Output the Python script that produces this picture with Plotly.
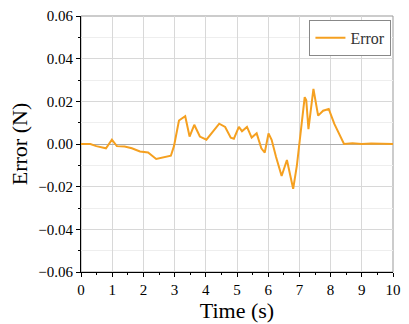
import plotly.graph_objects as go

time_s = [0.0, 0.3, 0.49, 0.8, 0.99, 1.15, 1.4, 1.63, 1.89, 2.15, 2.41, 2.67, 2.88, 2.98,
          3.14, 3.34, 3.48, 3.63, 3.81, 4.02, 4.23, 4.43, 4.62, 4.80, 4.90, 5.06, 5.16,
          5.32, 5.47, 5.63, 5.78, 5.89, 6.01, 6.11, 6.25, 6.43, 6.60, 6.80, 6.92, 7.03,
          7.17, 7.22, 7.29, 7.45, 7.60, 7.76, 7.94, 8.12, 8.43, 8.7, 9.0, 9.3, 9.6, 10.0]
error_n = [0.0, 0.0, -0.001, -0.002, 0.002, -0.001, -0.0012, -0.002, -0.0035, -0.004,
           -0.007, -0.006, -0.0055, -0.001, 0.011, 0.013, 0.0035, 0.009, 0.0035, 0.002,
           0.006, 0.0095, 0.008, 0.003, 0.0025, 0.008, 0.006, 0.008, 0.003, 0.005,
           -0.002, -0.004, 0.005, 0.002, -0.006, -0.015, -0.0075, -0.021, -0.010, 0.005,
           0.022, 0.0205, 0.007, 0.0258, 0.0133, 0.0156, 0.0164, 0.0094, 0.0, 0.0003,
           0.0, 0.0002, 0.0, 0.0]

x_ticks = list(range(0, 11))
y_ticks = [-0.06, -0.04, -0.02, 0.0, 0.02, 0.04, 0.06]

font = "Liberation Serif"

fig = go.Figure()
fig.add_trace(go.Scatter(x=time_s, y=error_n, mode="lines", name="Error",
                         line=dict(color="#F5A020", width=2)))

fig.update_layout(
    width=409, height=324,
    margin=dict(l=81, r=8, t=15, b=52),
    paper_bgcolor="white", plot_bgcolor="white",
    font=dict(family=font, size=15, color="black"),
    showlegend=True,
    legend=dict(x=0.995, y=0.985, xanchor="right", yanchor="top",
                bgcolor="white", bordercolor="#888", borderwidth=1,
                font=dict(family=font, size=16, color="#333")),
)
fig.update_xaxes(
    range=[0, 10], tickvals=x_ticks, ticktext=[str(v) for v in x_ticks],
    showline=True, linecolor="black", linewidth=1, mirror=False,
    ticks="outside", ticklen=4, tickcolor="black",
    minor=dict(dtick=0.5, ticks="outside", ticklen=2, tickcolor="black",
               showgrid=False),
    showgrid=True, gridcolor="#d8d8d8", zeroline=False,
    title=dict(text="Time (s)", font=dict(family=font, size=22), standoff=0),
    tickfont=dict(family=font, size=15),
)
fig.update_yaxes(
    range=[-0.06, 0.06], tickvals=y_ticks, tickformat=".2f",
    showline=True, linecolor="black", linewidth=1, mirror=False,
    ticks="outside", ticklen=4, tickcolor="black",
    minor=dict(dtick=0.01, ticks="outside", ticklen=2, tickcolor="black",
               showgrid=True, gridcolor="#eeeeee"),
    showgrid=True, gridcolor="#d8d8d8", zeroline=True, zerolinecolor="#aaaaaa",
    zerolinewidth=1,
    title=dict(text="Error (N)", font=dict(family=font, size=22), standoff=4),
    tickfont=dict(family=font, size=15),
)
# frame on top/right
fig.add_shape(type="rect", xref="paper", yref="paper", x0=0, y0=0, x1=1, y1=1,
              line=dict(color="#999", width=1), layer="below")

fig.write_html("out.html")
